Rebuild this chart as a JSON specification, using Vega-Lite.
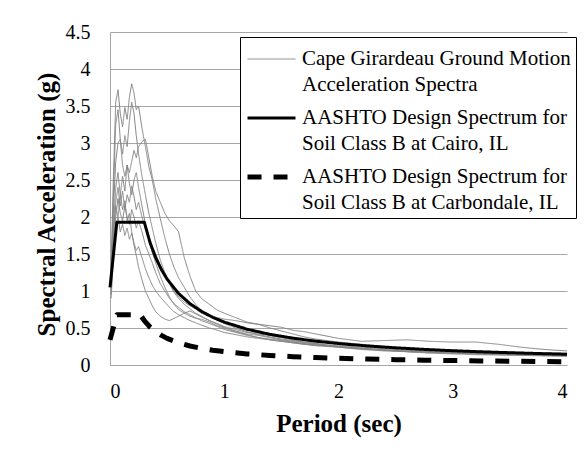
{
  "$schema": "https://vega.github.io/schema/vega-lite/v6.json",
  "width": 457,
  "height": 333,
  "autosize": "none",
  "padding": {"left": 110, "top": 32, "right": 17, "bottom": 91},
  "background": "white",
  "config": {
    "view": {"stroke": null},
    "font": "Liberation Serif",
    "style": {"guide-label": {"lineHeight": 26}},
    "axis": {
      "labelFont": "Liberation Serif",
      "labelFontSize": 20,
      "labelColor": "black",
      "titleFont": "Liberation Serif",
      "titleFontSize": 25,
      "titleFontWeight": "bold",
      "titleColor": "black",
      "ticks": false,
      "tickSize": 0,
      "domainColor": "#a6a6a6",
      "domainWidth": 1,
      "gridColor": "#a6a6a6",
      "gridWidth": 1
    },
    "legend": {
      "orient": "none",
      "legendX": 130,
      "legendY": 5,
      "strokeColor": "black",
      "strokeWidth": 1,
      "fillColor": "white",
      "padding": 5,
      "symbolType": "stroke",
      "symbolSize": 2304,
      "clipHeight": 34,
      "labelFont": "Liberation Serif",
      "labelFontSize": 21,
      "labelColor": "black",
      "labelBaseline": "middle",
      "labelOffset": 4,
      "labelLimit": 400,
      "rowPadding": 6,
      "title": null
    }
  },
  "datasets": {
    "gm": [
      {"r":"A","type":"GM","t":0.01,"a":1.35},{"r":"A","type":"GM","t":0.03,"a":2.55},{"r":"A","type":"GM","t":0.05,"a":3.55},{"r":"A","type":"GM","t":0.07,"a":3.72},{"r":"A","type":"GM","t":0.09,"a":3.4},{"r":"A","type":"GM","t":0.11,"a":3.22},{"r":"A","type":"GM","t":0.13,"a":3.48},{"r":"A","type":"GM","t":0.15,"a":3.32},{"r":"A","type":"GM","t":0.17,"a":3.62},{"r":"A","type":"GM","t":0.19,"a":3.8},{"r":"A","type":"GM","t":0.21,"a":3.68},{"r":"A","type":"GM","t":0.23,"a":3.45},{"r":"A","type":"GM","t":0.25,"a":3.5},{"r":"A","type":"GM","t":0.28,"a":3.2},{"r":"A","type":"GM","t":0.31,"a":2.95},{"r":"A","type":"GM","t":0.34,"a":2.68},{"r":"A","type":"GM","t":0.37,"a":2.5},{"r":"A","type":"GM","t":0.4,"a":2.25},{"r":"A","type":"GM","t":0.44,"a":1.98},{"r":"A","type":"GM","t":0.48,"a":1.72},{"r":"A","type":"GM","t":0.52,"a":1.5},{"r":"A","type":"GM","t":0.56,"a":1.32},{"r":"A","type":"GM","t":0.6,"a":1.18},{"r":"A","type":"GM","t":0.65,"a":1.05},{"r":"A","type":"GM","t":0.7,"a":0.92},{"r":"A","type":"GM","t":0.75,"a":0.82},{"r":"A","type":"GM","t":0.8,"a":0.74},{"r":"A","type":"GM","t":0.87,"a":0.66},{"r":"A","type":"GM","t":0.94,"a":0.6},{"r":"A","type":"GM","t":1.0,"a":0.56},{"r":"A","type":"GM","t":1.1,"a":0.5},{"r":"A","type":"GM","t":1.2,"a":0.45},{"r":"A","type":"GM","t":1.3,"a":0.41},{"r":"A","type":"GM","t":1.4,"a":0.38},{"r":"A","type":"GM","t":1.5,"a":0.35},{"r":"A","type":"GM","t":1.6,"a":0.33},{"r":"A","type":"GM","t":1.7,"a":0.31},{"r":"A","type":"GM","t":1.8,"a":0.29},{"r":"A","type":"GM","t":1.9,"a":0.27},{"r":"A","type":"GM","t":2.0,"a":0.26},{"r":"A","type":"GM","t":2.2,"a":0.24},{"r":"A","type":"GM","t":2.4,"a":0.22},{"r":"A","type":"GM","t":2.6,"a":0.2},{"r":"A","type":"GM","t":2.8,"a":0.19},{"r":"A","type":"GM","t":3.0,"a":0.18},{"r":"A","type":"GM","t":3.2,"a":0.17},{"r":"A","type":"GM","t":3.4,"a":0.165},{"r":"A","type":"GM","t":3.6,"a":0.16},{"r":"A","type":"GM","t":3.8,"a":0.155},{"r":"A","type":"GM","t":4.0,"a":0.15},
      {"r":"B","type":"GM","t":0.01,"a":1.2},{"r":"B","type":"GM","t":0.03,"a":2.3},{"r":"B","type":"GM","t":0.05,"a":3.25},{"r":"B","type":"GM","t":0.07,"a":3.45},{"r":"B","type":"GM","t":0.09,"a":3.05},{"r":"B","type":"GM","t":0.11,"a":2.85},{"r":"B","type":"GM","t":0.13,"a":3.1},{"r":"B","type":"GM","t":0.15,"a":2.95},{"r":"B","type":"GM","t":0.17,"a":3.3},{"r":"B","type":"GM","t":0.19,"a":3.55},{"r":"B","type":"GM","t":0.21,"a":3.4},{"r":"B","type":"GM","t":0.23,"a":3.1},{"r":"B","type":"GM","t":0.25,"a":2.85},{"r":"B","type":"GM","t":0.28,"a":2.55},{"r":"B","type":"GM","t":0.31,"a":2.3},{"r":"B","type":"GM","t":0.34,"a":2.05},{"r":"B","type":"GM","t":0.37,"a":1.85},{"r":"B","type":"GM","t":0.4,"a":1.65},{"r":"B","type":"GM","t":0.44,"a":1.42},{"r":"B","type":"GM","t":0.48,"a":1.25},{"r":"B","type":"GM","t":0.52,"a":1.1},{"r":"B","type":"GM","t":0.56,"a":0.98},{"r":"B","type":"GM","t":0.6,"a":0.9},{"r":"B","type":"GM","t":0.65,"a":0.82},{"r":"B","type":"GM","t":0.7,"a":0.76},{"r":"B","type":"GM","t":0.75,"a":0.7},{"r":"B","type":"GM","t":0.8,"a":0.66},{"r":"B","type":"GM","t":0.87,"a":0.6},{"r":"B","type":"GM","t":0.94,"a":0.55},{"r":"B","type":"GM","t":1.0,"a":0.51},{"r":"B","type":"GM","t":1.1,"a":0.46},{"r":"B","type":"GM","t":1.2,"a":0.42},{"r":"B","type":"GM","t":1.3,"a":0.4},{"r":"B","type":"GM","t":1.4,"a":0.37},{"r":"B","type":"GM","t":1.5,"a":0.34},{"r":"B","type":"GM","t":1.6,"a":0.32},{"r":"B","type":"GM","t":1.7,"a":0.3},{"r":"B","type":"GM","t":1.8,"a":0.28},{"r":"B","type":"GM","t":1.9,"a":0.26},{"r":"B","type":"GM","t":2.0,"a":0.25},{"r":"B","type":"GM","t":2.2,"a":0.22},{"r":"B","type":"GM","t":2.4,"a":0.2},{"r":"B","type":"GM","t":2.6,"a":0.19},{"r":"B","type":"GM","t":2.8,"a":0.18},{"r":"B","type":"GM","t":3.0,"a":0.17},{"r":"B","type":"GM","t":3.2,"a":0.16},{"r":"B","type":"GM","t":3.4,"a":0.15},{"r":"B","type":"GM","t":3.6,"a":0.14},{"r":"B","type":"GM","t":3.8,"a":0.135},{"r":"B","type":"GM","t":4.0,"a":0.13},
      {"r":"C","type":"GM","t":0.01,"a":1.15},{"r":"C","type":"GM","t":0.03,"a":2.1},{"r":"C","type":"GM","t":0.05,"a":2.75},{"r":"C","type":"GM","t":0.07,"a":3.0},{"r":"C","type":"GM","t":0.09,"a":3.05},{"r":"C","type":"GM","t":0.11,"a":2.7},{"r":"C","type":"GM","t":0.13,"a":2.55},{"r":"C","type":"GM","t":0.15,"a":2.7},{"r":"C","type":"GM","t":0.17,"a":2.6},{"r":"C","type":"GM","t":0.19,"a":2.75},{"r":"C","type":"GM","t":0.21,"a":2.9},{"r":"C","type":"GM","t":0.23,"a":2.8},{"r":"C","type":"GM","t":0.25,"a":2.95},{"r":"C","type":"GM","t":0.28,"a":3.02},{"r":"C","type":"GM","t":0.31,"a":3.05},{"r":"C","type":"GM","t":0.34,"a":2.8},{"r":"C","type":"GM","t":0.37,"a":2.55},{"r":"C","type":"GM","t":0.4,"a":2.35},{"r":"C","type":"GM","t":0.44,"a":2.2},{"r":"C","type":"GM","t":0.48,"a":2.05},{"r":"C","type":"GM","t":0.52,"a":1.95},{"r":"C","type":"GM","t":0.56,"a":1.88},{"r":"C","type":"GM","t":0.6,"a":1.8},{"r":"C","type":"GM","t":0.65,"a":1.45},{"r":"C","type":"GM","t":0.7,"a":1.2},{"r":"C","type":"GM","t":0.75,"a":1.0},{"r":"C","type":"GM","t":0.8,"a":0.9},{"r":"C","type":"GM","t":0.87,"a":0.82},{"r":"C","type":"GM","t":0.94,"a":0.74},{"r":"C","type":"GM","t":1.0,"a":0.7},{"r":"C","type":"GM","t":1.1,"a":0.64},{"r":"C","type":"GM","t":1.2,"a":0.58},{"r":"C","type":"GM","t":1.3,"a":0.55},{"r":"C","type":"GM","t":1.4,"a":0.53},{"r":"C","type":"GM","t":1.5,"a":0.51},{"r":"C","type":"GM","t":1.6,"a":0.47},{"r":"C","type":"GM","t":1.7,"a":0.45},{"r":"C","type":"GM","t":1.8,"a":0.42},{"r":"C","type":"GM","t":1.9,"a":0.39},{"r":"C","type":"GM","t":2.0,"a":0.36},{"r":"C","type":"GM","t":2.2,"a":0.32},{"r":"C","type":"GM","t":2.4,"a":0.33},{"r":"C","type":"GM","t":2.6,"a":0.34},{"r":"C","type":"GM","t":2.8,"a":0.32},{"r":"C","type":"GM","t":3.0,"a":0.31},{"r":"C","type":"GM","t":3.2,"a":0.31},{"r":"C","type":"GM","t":3.4,"a":0.28},{"r":"C","type":"GM","t":3.6,"a":0.24},{"r":"C","type":"GM","t":3.8,"a":0.21},{"r":"C","type":"GM","t":4.0,"a":0.19},
      {"r":"D","type":"GM","t":0.01,"a":1.1},{"r":"D","type":"GM","t":0.03,"a":1.85},{"r":"D","type":"GM","t":0.05,"a":2.4},{"r":"D","type":"GM","t":0.07,"a":2.6},{"r":"D","type":"GM","t":0.09,"a":2.3},{"r":"D","type":"GM","t":0.11,"a":2.55},{"r":"D","type":"GM","t":0.13,"a":2.35},{"r":"D","type":"GM","t":0.15,"a":2.7},{"r":"D","type":"GM","t":0.17,"a":2.45},{"r":"D","type":"GM","t":0.19,"a":2.3},{"r":"D","type":"GM","t":0.21,"a":2.5},{"r":"D","type":"GM","t":0.23,"a":2.6},{"r":"D","type":"GM","t":0.25,"a":2.4},{"r":"D","type":"GM","t":0.28,"a":2.15},{"r":"D","type":"GM","t":0.31,"a":1.9},{"r":"D","type":"GM","t":0.34,"a":1.7},{"r":"D","type":"GM","t":0.37,"a":1.52},{"r":"D","type":"GM","t":0.4,"a":1.38},{"r":"D","type":"GM","t":0.44,"a":1.2},{"r":"D","type":"GM","t":0.48,"a":1.05},{"r":"D","type":"GM","t":0.52,"a":0.92},{"r":"D","type":"GM","t":0.56,"a":0.82},{"r":"D","type":"GM","t":0.6,"a":0.75},{"r":"D","type":"GM","t":0.65,"a":0.7},{"r":"D","type":"GM","t":0.7,"a":0.66},{"r":"D","type":"GM","t":0.75,"a":0.63},{"r":"D","type":"GM","t":0.8,"a":0.62},{"r":"D","type":"GM","t":0.87,"a":0.58},{"r":"D","type":"GM","t":0.94,"a":0.53},{"r":"D","type":"GM","t":1.0,"a":0.5},{"r":"D","type":"GM","t":1.1,"a":0.45},{"r":"D","type":"GM","t":1.2,"a":0.41},{"r":"D","type":"GM","t":1.3,"a":0.37},{"r":"D","type":"GM","t":1.4,"a":0.34},{"r":"D","type":"GM","t":1.5,"a":0.32},{"r":"D","type":"GM","t":1.6,"a":0.3},{"r":"D","type":"GM","t":1.7,"a":0.28},{"r":"D","type":"GM","t":1.8,"a":0.26},{"r":"D","type":"GM","t":1.9,"a":0.25},{"r":"D","type":"GM","t":2.0,"a":0.24},{"r":"D","type":"GM","t":2.2,"a":0.21},{"r":"D","type":"GM","t":2.4,"a":0.19},{"r":"D","type":"GM","t":2.6,"a":0.18},{"r":"D","type":"GM","t":2.8,"a":0.17},{"r":"D","type":"GM","t":3.0,"a":0.16},{"r":"D","type":"GM","t":3.2,"a":0.15},{"r":"D","type":"GM","t":3.4,"a":0.14},{"r":"D","type":"GM","t":3.6,"a":0.13},{"r":"D","type":"GM","t":3.8,"a":0.125},{"r":"D","type":"GM","t":4.0,"a":0.12},
      {"r":"E","type":"GM","t":0.01,"a":1.0},{"r":"E","type":"GM","t":0.03,"a":1.7},{"r":"E","type":"GM","t":0.05,"a":2.15},{"r":"E","type":"GM","t":0.07,"a":2.0},{"r":"E","type":"GM","t":0.09,"a":2.3},{"r":"E","type":"GM","t":0.11,"a":2.1},{"r":"E","type":"GM","t":0.13,"a":2.22},{"r":"E","type":"GM","t":0.15,"a":1.95},{"r":"E","type":"GM","t":0.17,"a":2.05},{"r":"E","type":"GM","t":0.19,"a":1.8},{"r":"E","type":"GM","t":0.21,"a":1.62},{"r":"E","type":"GM","t":0.23,"a":1.48},{"r":"E","type":"GM","t":0.25,"a":1.32},{"r":"E","type":"GM","t":0.28,"a":1.15},{"r":"E","type":"GM","t":0.31,"a":1.0},{"r":"E","type":"GM","t":0.34,"a":0.9},{"r":"E","type":"GM","t":0.37,"a":0.8},{"r":"E","type":"GM","t":0.4,"a":0.72},{"r":"E","type":"GM","t":0.44,"a":0.66},{"r":"E","type":"GM","t":0.48,"a":0.62},{"r":"E","type":"GM","t":0.52,"a":0.6},{"r":"E","type":"GM","t":0.56,"a":0.63},{"r":"E","type":"GM","t":0.6,"a":0.66},{"r":"E","type":"GM","t":0.65,"a":0.7},{"r":"E","type":"GM","t":0.7,"a":0.73},{"r":"E","type":"GM","t":0.75,"a":0.69},{"r":"E","type":"GM","t":0.8,"a":0.65},{"r":"E","type":"GM","t":0.87,"a":0.6},{"r":"E","type":"GM","t":0.94,"a":0.56},{"r":"E","type":"GM","t":1.0,"a":0.52},{"r":"E","type":"GM","t":1.1,"a":0.48},{"r":"E","type":"GM","t":1.2,"a":0.44},{"r":"E","type":"GM","t":1.3,"a":0.42},{"r":"E","type":"GM","t":1.4,"a":0.4},{"r":"E","type":"GM","t":1.5,"a":0.37},{"r":"E","type":"GM","t":1.6,"a":0.34},{"r":"E","type":"GM","t":1.7,"a":0.31},{"r":"E","type":"GM","t":1.8,"a":0.29},{"r":"E","type":"GM","t":1.9,"a":0.27},{"r":"E","type":"GM","t":2.0,"a":0.25},{"r":"E","type":"GM","t":2.2,"a":0.22},{"r":"E","type":"GM","t":2.4,"a":0.2},{"r":"E","type":"GM","t":2.6,"a":0.18},{"r":"E","type":"GM","t":2.8,"a":0.17},{"r":"E","type":"GM","t":3.0,"a":0.16},{"r":"E","type":"GM","t":3.2,"a":0.15},{"r":"E","type":"GM","t":3.4,"a":0.145},{"r":"E","type":"GM","t":3.6,"a":0.14},{"r":"E","type":"GM","t":3.8,"a":0.135},{"r":"E","type":"GM","t":4.0,"a":0.13},
      {"r":"F","type":"GM","t":0.01,"a":1.05},{"r":"F","type":"GM","t":0.03,"a":1.8},{"r":"F","type":"GM","t":0.05,"a":2.2},{"r":"F","type":"GM","t":0.07,"a":2.4},{"r":"F","type":"GM","t":0.09,"a":2.15},{"r":"F","type":"GM","t":0.11,"a":2.35},{"r":"F","type":"GM","t":0.13,"a":2.1},{"r":"F","type":"GM","t":0.15,"a":2.3},{"r":"F","type":"GM","t":0.17,"a":2.2},{"r":"F","type":"GM","t":0.19,"a":2.42},{"r":"F","type":"GM","t":0.21,"a":2.28},{"r":"F","type":"GM","t":0.23,"a":2.1},{"r":"F","type":"GM","t":0.25,"a":2.2},{"r":"F","type":"GM","t":0.28,"a":2.0},{"r":"F","type":"GM","t":0.31,"a":1.85},{"r":"F","type":"GM","t":0.34,"a":1.7},{"r":"F","type":"GM","t":0.37,"a":1.6},{"r":"F","type":"GM","t":0.4,"a":1.5},{"r":"F","type":"GM","t":0.44,"a":1.35},{"r":"F","type":"GM","t":0.48,"a":1.22},{"r":"F","type":"GM","t":0.52,"a":1.1},{"r":"F","type":"GM","t":0.56,"a":1.0},{"r":"F","type":"GM","t":0.6,"a":0.92},{"r":"F","type":"GM","t":0.65,"a":0.85},{"r":"F","type":"GM","t":0.7,"a":0.8},{"r":"F","type":"GM","t":0.75,"a":0.76},{"r":"F","type":"GM","t":0.8,"a":0.7},{"r":"F","type":"GM","t":0.87,"a":0.66},{"r":"F","type":"GM","t":0.94,"a":0.64},{"r":"F","type":"GM","t":1.0,"a":0.62},{"r":"F","type":"GM","t":1.1,"a":0.6},{"r":"F","type":"GM","t":1.2,"a":0.57},{"r":"F","type":"GM","t":1.3,"a":0.55},{"r":"F","type":"GM","t":1.4,"a":0.5},{"r":"F","type":"GM","t":1.5,"a":0.46},{"r":"F","type":"GM","t":1.6,"a":0.42},{"r":"F","type":"GM","t":1.7,"a":0.38},{"r":"F","type":"GM","t":1.8,"a":0.35},{"r":"F","type":"GM","t":1.9,"a":0.33},{"r":"F","type":"GM","t":2.0,"a":0.31},{"r":"F","type":"GM","t":2.2,"a":0.28},{"r":"F","type":"GM","t":2.4,"a":0.25},{"r":"F","type":"GM","t":2.6,"a":0.23},{"r":"F","type":"GM","t":2.8,"a":0.21},{"r":"F","type":"GM","t":3.0,"a":0.2},{"r":"F","type":"GM","t":3.2,"a":0.19},{"r":"F","type":"GM","t":3.4,"a":0.18},{"r":"F","type":"GM","t":3.6,"a":0.17},{"r":"F","type":"GM","t":3.8,"a":0.165},{"r":"F","type":"GM","t":4.0,"a":0.16},
      {"r":"G","type":"GM","t":0.01,"a":0.95},{"r":"G","type":"GM","t":0.03,"a":1.6},{"r":"G","type":"GM","t":0.05,"a":2.0},{"r":"G","type":"GM","t":0.07,"a":2.25},{"r":"G","type":"GM","t":0.09,"a":2.05},{"r":"G","type":"GM","t":0.11,"a":1.95},{"r":"G","type":"GM","t":0.13,"a":2.15},{"r":"G","type":"GM","t":0.15,"a":2.0},{"r":"G","type":"GM","t":0.17,"a":1.9},{"r":"G","type":"GM","t":0.19,"a":2.1},{"r":"G","type":"GM","t":0.21,"a":2.0},{"r":"G","type":"GM","t":0.23,"a":1.85},{"r":"G","type":"GM","t":0.25,"a":1.95},{"r":"G","type":"GM","t":0.28,"a":1.8},{"r":"G","type":"GM","t":0.31,"a":1.62},{"r":"G","type":"GM","t":0.34,"a":1.5},{"r":"G","type":"GM","t":0.37,"a":1.38},{"r":"G","type":"GM","t":0.4,"a":1.25},{"r":"G","type":"GM","t":0.44,"a":1.1},{"r":"G","type":"GM","t":0.48,"a":1.0},{"r":"G","type":"GM","t":0.52,"a":0.9},{"r":"G","type":"GM","t":0.56,"a":0.83},{"r":"G","type":"GM","t":0.6,"a":0.78},{"r":"G","type":"GM","t":0.65,"a":0.72},{"r":"G","type":"GM","t":0.7,"a":0.68},{"r":"G","type":"GM","t":0.75,"a":0.64},{"r":"G","type":"GM","t":0.8,"a":0.6},{"r":"G","type":"GM","t":0.87,"a":0.56},{"r":"G","type":"GM","t":0.94,"a":0.52},{"r":"G","type":"GM","t":1.0,"a":0.48},{"r":"G","type":"GM","t":1.1,"a":0.44},{"r":"G","type":"GM","t":1.2,"a":0.4},{"r":"G","type":"GM","t":1.3,"a":0.37},{"r":"G","type":"GM","t":1.4,"a":0.35},{"r":"G","type":"GM","t":1.5,"a":0.33},{"r":"G","type":"GM","t":1.6,"a":0.31},{"r":"G","type":"GM","t":1.7,"a":0.29},{"r":"G","type":"GM","t":1.8,"a":0.27},{"r":"G","type":"GM","t":1.9,"a":0.26},{"r":"G","type":"GM","t":2.0,"a":0.25},{"r":"G","type":"GM","t":2.2,"a":0.23},{"r":"G","type":"GM","t":2.4,"a":0.21},{"r":"G","type":"GM","t":2.6,"a":0.19},{"r":"G","type":"GM","t":2.8,"a":0.18},{"r":"G","type":"GM","t":3.0,"a":0.17},{"r":"G","type":"GM","t":3.2,"a":0.16},{"r":"G","type":"GM","t":3.4,"a":0.155},{"r":"G","type":"GM","t":3.6,"a":0.15},{"r":"G","type":"GM","t":3.8,"a":0.145},{"r":"G","type":"GM","t":4.0,"a":0.14},
      {"r":"H","type":"GM","t":0.01,"a":0.9},{"r":"H","type":"GM","t":0.03,"a":1.45},{"r":"H","type":"GM","t":0.05,"a":1.85},{"r":"H","type":"GM","t":0.07,"a":2.0},{"r":"H","type":"GM","t":0.09,"a":1.8},{"r":"H","type":"GM","t":0.11,"a":1.9},{"r":"H","type":"GM","t":0.13,"a":1.75},{"r":"H","type":"GM","t":0.15,"a":1.85},{"r":"H","type":"GM","t":0.17,"a":1.7},{"r":"H","type":"GM","t":0.19,"a":1.78},{"r":"H","type":"GM","t":0.21,"a":1.65},{"r":"H","type":"GM","t":0.23,"a":1.55},{"r":"H","type":"GM","t":0.25,"a":1.6},{"r":"H","type":"GM","t":0.28,"a":1.45},{"r":"H","type":"GM","t":0.31,"a":1.3},{"r":"H","type":"GM","t":0.34,"a":1.18},{"r":"H","type":"GM","t":0.37,"a":1.08},{"r":"H","type":"GM","t":0.4,"a":1.0},{"r":"H","type":"GM","t":0.44,"a":0.92},{"r":"H","type":"GM","t":0.48,"a":0.85},{"r":"H","type":"GM","t":0.52,"a":0.78},{"r":"H","type":"GM","t":0.56,"a":0.72},{"r":"H","type":"GM","t":0.6,"a":0.68},{"r":"H","type":"GM","t":0.65,"a":0.64},{"r":"H","type":"GM","t":0.7,"a":0.6},{"r":"H","type":"GM","t":0.75,"a":0.57},{"r":"H","type":"GM","t":0.8,"a":0.54},{"r":"H","type":"GM","t":0.87,"a":0.5},{"r":"H","type":"GM","t":0.94,"a":0.47},{"r":"H","type":"GM","t":1.0,"a":0.44},{"r":"H","type":"GM","t":1.1,"a":0.41},{"r":"H","type":"GM","t":1.2,"a":0.38},{"r":"H","type":"GM","t":1.3,"a":0.36},{"r":"H","type":"GM","t":1.4,"a":0.34},{"r":"H","type":"GM","t":1.5,"a":0.32},{"r":"H","type":"GM","t":1.6,"a":0.3},{"r":"H","type":"GM","t":1.7,"a":0.28},{"r":"H","type":"GM","t":1.8,"a":0.27},{"r":"H","type":"GM","t":1.9,"a":0.26},{"r":"H","type":"GM","t":2.0,"a":0.24},{"r":"H","type":"GM","t":2.2,"a":0.22},{"r":"H","type":"GM","t":2.4,"a":0.2},{"r":"H","type":"GM","t":2.6,"a":0.18},{"r":"H","type":"GM","t":2.8,"a":0.16},{"r":"H","type":"GM","t":3.0,"a":0.15},{"r":"H","type":"GM","t":3.2,"a":0.14},{"r":"H","type":"GM","t":3.4,"a":0.135},{"r":"H","type":"GM","t":3.6,"a":0.13},{"r":"H","type":"GM","t":3.8,"a":0.125},{"r":"H","type":"GM","t":4.0,"a":0.12}
    ],
    "design": [
      {"type":"Cairo","t":0,"a":1.05},{"type":"Cairo","t":0.06,"a":1.93},{"type":"Cairo","t":0.3,"a":1.93},{"type":"Cairo","t":0.35,"a":1.657},{"type":"Cairo","t":0.4,"a":1.45},{"type":"Cairo","t":0.45,"a":1.289},{"type":"Cairo","t":0.5,"a":1.16},{"type":"Cairo","t":0.6,"a":0.967},{"type":"Cairo","t":0.7,"a":0.829},{"type":"Cairo","t":0.8,"a":0.725},{"type":"Cairo","t":0.9,"a":0.644},{"type":"Cairo","t":1.0,"a":0.58},{"type":"Cairo","t":1.2,"a":0.483},{"type":"Cairo","t":1.4,"a":0.414},{"type":"Cairo","t":1.6,"a":0.363},{"type":"Cairo","t":1.8,"a":0.322},{"type":"Cairo","t":2.0,"a":0.29},{"type":"Cairo","t":2.25,"a":0.258},{"type":"Cairo","t":2.5,"a":0.232},{"type":"Cairo","t":2.75,"a":0.211},{"type":"Cairo","t":3.0,"a":0.193},{"type":"Cairo","t":3.25,"a":0.178},{"type":"Cairo","t":3.5,"a":0.166},{"type":"Cairo","t":3.75,"a":0.155},{"type":"Cairo","t":4.0,"a":0.145},
      {"type":"Carbondale","t":0,"a":0.34},{"type":"Carbondale","t":0.06,"a":0.68},{"type":"Carbondale","t":0.265,"a":0.68},{"type":"Carbondale","t":0.3,"a":0.6},{"type":"Carbondale","t":0.35,"a":0.514},{"type":"Carbondale","t":0.4,"a":0.45},{"type":"Carbondale","t":0.45,"a":0.4},{"type":"Carbondale","t":0.5,"a":0.36},{"type":"Carbondale","t":0.6,"a":0.3},{"type":"Carbondale","t":0.7,"a":0.257},{"type":"Carbondale","t":0.8,"a":0.225},{"type":"Carbondale","t":0.9,"a":0.2},{"type":"Carbondale","t":1.0,"a":0.18},{"type":"Carbondale","t":1.2,"a":0.15},{"type":"Carbondale","t":1.4,"a":0.129},{"type":"Carbondale","t":1.6,"a":0.113},{"type":"Carbondale","t":1.8,"a":0.1},{"type":"Carbondale","t":2.0,"a":0.09},{"type":"Carbondale","t":2.25,"a":0.08},{"type":"Carbondale","t":2.5,"a":0.072},{"type":"Carbondale","t":2.75,"a":0.065},{"type":"Carbondale","t":3.0,"a":0.06},{"type":"Carbondale","t":3.25,"a":0.055},{"type":"Carbondale","t":3.5,"a":0.051},{"type":"Carbondale","t":3.75,"a":0.048},{"type":"Carbondale","t":4.0,"a":0.045}
    ]
  },
  "encoding": {
    "x": {
      "field": "t", "type": "quantitative",
      "scale": {"domain": [0, 4], "nice": false, "zero": false},
      "axis": {"title": "Period (sec)", "values": [0, 1, 2, 3, 4], "format": "d", "grid": false, "labelPadding": 16, "titleBaseline": "alphabetic", "titleY": 66}
    },
    "y": {
      "field": "a", "type": "quantitative",
      "scale": {"domain": [0, 4.5], "nice": false},
      "axis": {"title": "Spectral Acceleration (g)", "values": [0, 0.5, 1, 1.5, 2, 2.5, 3, 3.5, 4, 4.5], "format": "~g", "grid": true, "labelPadding": 20, "titleBaseline": "alphabetic", "titleX": -56, "titleY": 172, "titleAngle": -90, "titleAlign": "center"}
    },
    "color": {
      "field": "type", "type": "nominal",
      "scale": {"domain": ["GM", "Cairo", "Carbondale"], "range": ["#858585", "#000000", "#000000"]},
      "legend": {"labelExpr": "datum.label == 'GM' ? ['Cape Girardeau Ground Motion', 'Acceleration Spectra'] : datum.label == 'Cairo' ? ['AASHTO Design Spectrum for', 'Soil Class B at Cairo, IL'] : ['AASHTO Design Spectrum for', 'Soil Class B at Carbondale, IL']"}
    },
    "strokeWidth": {
      "field": "type", "type": "nominal",
      "scale": {"domain": ["GM", "Cairo", "Carbondale"], "range": [1, 5, 4.5]},
      "legend": {"labelExpr": "datum.label == 'GM' ? ['Cape Girardeau Ground Motion', 'Acceleration Spectra'] : datum.label == 'Cairo' ? ['AASHTO Design Spectrum for', 'Soil Class B at Cairo, IL'] : ['AASHTO Design Spectrum for', 'Soil Class B at Carbondale, IL']"}
    },
    "strokeDash": {
      "field": "type", "type": "nominal",
      "scale": {"domain": ["GM", "Cairo", "Carbondale"], "range": [[1, 0], [1, 0], [14, 12]]},
      "legend": {"labelExpr": "datum.label == 'GM' ? ['Cape Girardeau Ground Motion', 'Acceleration Spectra'] : datum.label == 'Cairo' ? ['AASHTO Design Spectrum for', 'Soil Class B at Cairo, IL'] : ['AASHTO Design Spectrum for', 'Soil Class B at Carbondale, IL']"}
    }
  },
  "layer": [
    {
      "data": {"name": "gm"},
      "mark": {"type": "line", "interpolate": "linear"},
      "encoding": {"detail": {"field": "r", "type": "nominal"}}
    },
    {
      "data": {"name": "design"},
      "mark": {"type": "line", "interpolate": "linear", "strokeJoin": "round"},
      "encoding": {}
    }
  ]
}
